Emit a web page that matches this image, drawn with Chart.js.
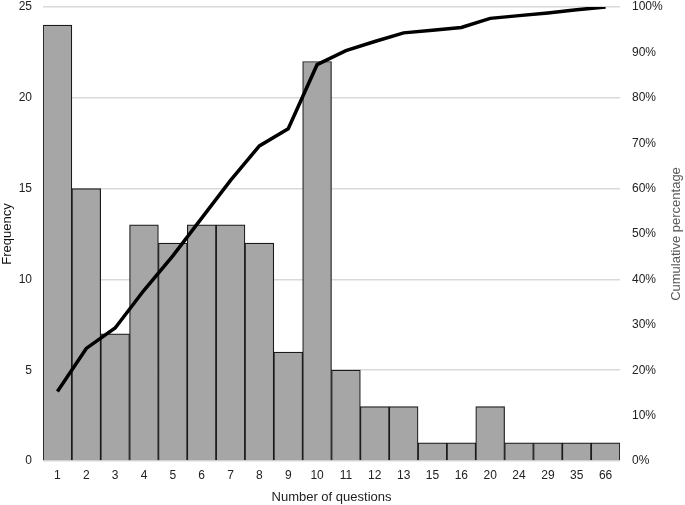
<!DOCTYPE html>
<html>
<head>
<meta charset="utf-8">
<script src="https://cdn.jsdelivr.net/npm/chart.js@4/dist/chart.umd.min.js"></script>
<style>
html,body{margin:0;padding:0;background:#fff;}
#wrap{width:685px;height:505px;position:relative;}
</style>
</head>
<body>
<div id="wrap"><canvas id="c"></canvas></div>
<script>
const categories = ['1','2','3','4','5','6','7','8','9','10','11','12','13','15','16','20','24','29','35','66'];
const frequency = [24,15,7,13,12,13,13,12,6,22,5,3,3,1,1,3,1,1,1,1];
const cumulativePct = [15.3,24.8,29.3,37.6,45.2,53.5,61.8,69.4,73.2,87.3,90.4,92.4,94.3,94.9,95.5,97.5,98.1,98.7,99.4,100];
const leftTicks = [0,5,10,15,20,25];
const rightTicks = [0,10,20,30,40,50,60,70,80,90,100];
const rightTitle = 'Cumulative percentage';

const FONT = "'Liberation Sans', Arial, sans-serif";
Chart.defaults.font.family = FONT;
Chart.defaults.color = '#222';

const rightTitlePlugin = {
  id: 'rightTitle',
  afterDraw(chart) {
    const ctx = chart.ctx, a = chart.chartArea;
    ctx.save();
    ctx.translate(676, (a.top + a.bottom) / 2);
    ctx.rotate(-Math.PI / 2);
    ctx.font = '13px ' + FONT;
    ctx.fillStyle = '#595959';
    ctx.textAlign = 'center';
    ctx.textBaseline = 'middle';
    ctx.fillText(rightTitle, 0, 0);
    ctx.restore();
  }
};

new Chart(document.getElementById('c'), {
  plugins: [rightTitlePlugin],
  data: {
    labels: categories,
    datasets: [
      {
        type: 'line',
        data: cumulativePct,
        yAxisID: 'yR',
        borderColor: '#000',
        borderWidth: 3.5,
        pointRadius: 0,
        tension: 0,
        fill: false,
        order: 0
      },
      {
        type: 'bar',
        data: frequency,
        yAxisID: 'y',
        backgroundColor: '#a6a6a6',
        borderColor: '#1a1a1a',
        borderWidth: 1.2,
        barPercentage: 1,
        categoryPercentage: 1,
        order: 1
      }
    ]
  },
  options: {
    responsive: true,
    maintainAspectRatio: false,
    animation: false,
    layout: { padding: { top: 7, left: 0, right: 0, bottom: 0 } },
    plugins: { legend: { display: false }, tooltip: { enabled: false } },
    scales: {
      x: {
        grid: { display: false, drawTicks: false },
        border: { display: false },
        ticks: { color: '#222', font: { size: 12 }, padding: 7, maxRotation: 0, autoSkip: false },
        title: { display: true, text: 'Number of questions', color: '#222', font: { size: 13 }, padding: { top: 5, bottom: 0 } },
        afterFit: s => { s.height = 44; s.paddingLeft = 0; s.paddingRight = 0; }
      },
      y: {
        position: 'left',
        min: 0, max: 25,
        afterBuildTicks: s => { s.ticks = leftTicks.map(v => ({ value: v })); },
        grid: { color: '#d9d9d9', lineWidth: 1.5, drawTicks: false },
        border: { display: false },
        ticks: { color: '#222', font: { size: 12 }, padding: 11 },
        title: { display: true, text: 'Frequency', color: '#111', font: { size: 13 }, padding: { top: 0, bottom: 0 } },
        afterFit: s => { s.width = 43; s.paddingTop = 0; s.paddingBottom = 0; }
      },
      yR: {
        position: 'right',
        min: 0, max: 100,
        afterBuildTicks: s => { s.ticks = rightTicks.map(v => ({ value: v })); },
        grid: { display: false, drawTicks: false },
        border: { display: false },
        ticks: { color: '#222', font: { size: 12 }, padding: 12, callback: v => v + '%' },
        afterFit: s => { s.width = 65; s.paddingTop = 0; s.paddingBottom = 0; }
      }
    }
  }
});
</script>
</body>
</html>
